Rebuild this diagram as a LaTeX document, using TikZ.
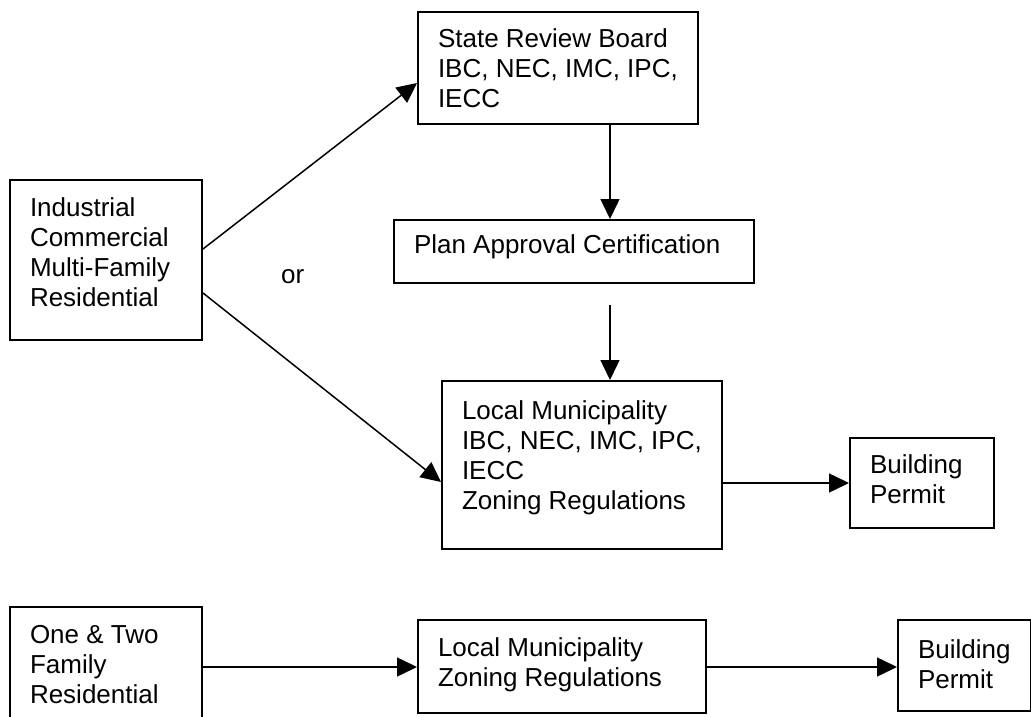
\documentclass[tikz,border=0pt]{standalone}
\usepackage{fontspec}
\setmainfont{Liberation Sans}
\usetikzlibrary{arrows.meta,calc}

% Box contents: width, height, drop of the first baseline, lines
\newcommand\boxtext[4]{\parbox[c][#2][t]{#1}{\raggedright\leftskip=20pt\rule{0pt}{#3}#4}}

\tikzset{
  box/.style={draw, line width=2pt, inner sep=0pt, anchor=north west,
              font=\fontsize{26pt}{30pt}\selectfont},
  arr/.style={line width=1.5pt, -{Triangle[length=20pt,width=19pt]}},
  lbl/.style={inner sep=0pt, anchor=base west, font=\fontsize{26pt}{30pt}\selectfont},
}

\begin{document}
\begin{tikzpicture}[x=1pt,y=-1pt]
\fill[white] (0,0) rectangle (1031,717);
\useasboundingbox (0,0) rectangle (1031,717);
\clip (0,0) rectangle (1031,717);

% upper flow
\node[box] (ind) at (9,179) {\boxtext{192pt}{160pt}{36pt}{Industrial\\Commercial\\Multi-Family\\Residential}};
\node[box] (state) at (417,11) {\boxtext{280pt}{112pt}{35pt}{State Review Board\\IBC, NEC, IMC, IPC,\\IECC}};
\node[box] (plan) at (393,219) {\boxtext{360pt}{63pt}{33pt}{Plan Approval Certification}};
\node[box] (local) at (441,380) {\boxtext{280pt}{168pt}{38pt}{Local Municipality\\IBC, NEC, IMC, IPC,\\IECC\\Zoning Regulations}};
\node[box] (bp) at (849,437) {\boxtext{144pt}{90pt}{35pt}{Building\\Permit}};
\node[lbl] (or) at (281,283) {or};

% lower flow
\node[box] (one) at (9,606) {\boxtext{192pt}{140pt}{36pt}{One \& Two\\Family\\Residential}};
\node[box] (lz) at (417,619) {\boxtext{288pt}{93pt}{36pt}{Local Municipality\\Zoning Regulations}};
\node[box] (bp2) at (897,619) {\boxtext{133pt}{91pt}{38pt}{Building\\Permit}};

% connectors
\coordinate (col) at (610,0);
\draw[arr] ($(ind.north east)+(0,70)$) -- ($(state.north west)+(0,72)$);
\draw[arr] ($(ind.north east)+(0,114)$) -- ($(local.north west)+(0,102)$);
\draw[arr] (state.south -| col) -- (plan.north -| col);
\coordinate (pstart) at ($(plan.south -| col)+(0,21)$);
\draw[arr] (pstart) -- (local.north -| col);
\draw[arr] (local.east |- bp.west) -- (bp.west);
\coordinate (row) at ($(lz.north west)+(0,48)$);
\draw[arr] (one.east |- row) -- (row);
\draw[arr] (lz.east |- row) -- (bp2.west |- row);
\end{tikzpicture}
\end{document}
